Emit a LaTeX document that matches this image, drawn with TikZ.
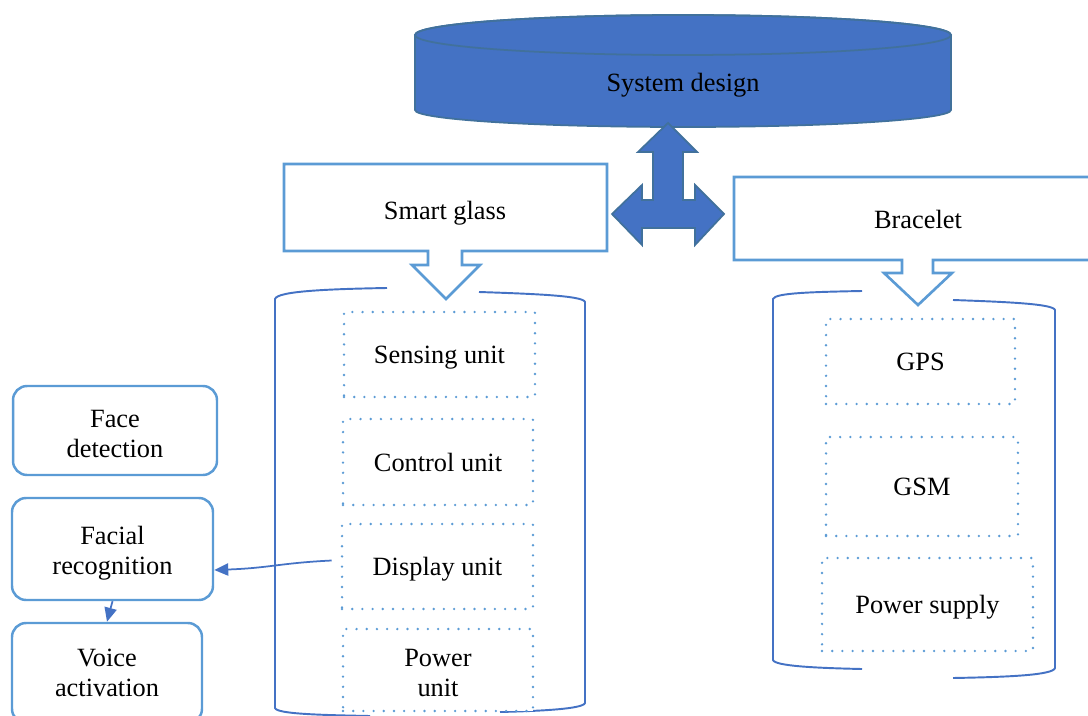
\documentclass[tikz,border=0pt]{standalone}
\usepackage{fontspec}
\setmainfont{Liberation Serif}
\usetikzlibrary{arrows.meta}

\definecolor{sysblue}{HTML}{4472C4}
\definecolor{sysedge}{HTML}{41719C}
\definecolor{boxblue}{HTML}{5B9BD5}

\tikzset{
  unitbox/.style={draw=boxblue, line width=1.5pt, line cap=round, dash pattern=on 0pt off 5.8pt, fill=white, align=center, text depth=0pt},
  taskbox/.style={draw=boxblue, line width=1.4pt, rounded corners=8pt, fill=white, align=center},
  callout/.style={draw=boxblue, line width=1.5pt, fill=white},
  scrollline/.style={draw=sysblue, line width=1.1pt},
  conn/.style={draw=sysblue, line width=1pt, -{Triangle[length=8pt, width=7pt]}},
}

\begin{document}
\begin{tikzpicture}[x=0.02cm, y=-0.02cm, font=\fontsize{15}{17}\selectfont]
    \useasboundingbox (0,0) rectangle (1088,716);
    \clip (0,0) rectangle (1088,716);

    % System design (cylinder)
    \filldraw[fill=sysblue, draw=sysedge, line width=1pt] (415,35) -- (415,110)
        arc[start angle=180, end angle=0, x radius=268, y radius=17] -- (951,35)
        arc[start angle=0, end angle=-180, x radius=268, y radius=20] -- cycle;
    \draw[sysedge, line width=1pt] (683,35) ellipse[x radius=268, y radius=20];
    \node[text depth=0pt] (sysdes) at (683,82) {System design};

    % Three-way arrow
    \filldraw[fill=sysblue, draw=sysedge, line width=1pt] (668,123) -- (697,152) -- (683,152)
        -- (683,200) -- (695,200) -- (695,185) -- (724,214) -- (695,245) -- (695,228)
        -- (642,228) -- (642,245) -- (612,214) -- (642,185) -- (642,200) -- (653,200)
        -- (653,152) -- (638,152) -- cycle;

    % Containers (scrolls)
    \draw[scrollline] (387,288) .. controls (330,289) and (277,291) .. (275,299) -- (275,708)
        .. controls (277,714) and (320,715) .. (370,716);
    \draw[scrollline] (479,292) .. controls (540,294) and (583,296) .. (585,302) -- (585,703)
        .. controls (583,709) and (540,711) .. (500,712);
    \draw[scrollline] (862,291) .. controls (810,292) and (775,293) .. (773,299) -- (773,660)
        .. controls (775,666) and (815,668) .. (862,669);
    \draw[scrollline] (953,300) .. controls (1010,302) and (1053,304) .. (1055,310) -- (1055,668)
        .. controls (1053,675) and (1010,677) .. (953,678);

    % Smart glass callout
    \filldraw[callout] (284,164) -- (607,164) -- (607,251) -- (462,251) -- (462,265) -- (480,265)
        -- (446,299) -- (412,265) -- (428,265) -- (428,251) -- (284,251) -- cycle;
    \node[text depth=0pt] (glass) at (445,210) {Smart glass};

    % Bracelet callout
    \filldraw[callout] (734,177) -- (1095,177) -- (1095,260) -- (933,260) -- (933,273) -- (952,273)
        -- (918,305) -- (884,273) -- (902,273) -- (902,260) -- (734,260) -- cycle;
    \node[text depth=0pt] (brace) at (918,219) {Bracelet};

    % Smart glass units
    \node[unitbox, minimum width=3.82cm, minimum height=1.70cm] (sense) at (439.5,354.5) {Sensing unit};
    \node[unitbox, minimum width=3.80cm, minimum height=1.72cm] (ctrl) at (438,462) {Control unit};
    \node[unitbox, minimum width=3.82cm, minimum height=1.70cm] (disp) at (437.5,566.5) {Display unit};
    \node[unitbox, minimum width=3.80cm, minimum height=1.64cm, text height=30.3pt] (power) at (438,670) {Power\\unit};

    % Bracelet units
    \node[unitbox, minimum width=3.78cm, minimum height=1.70cm] (gps) at (920.5,361.5) {GPS};
    \node[unitbox, minimum width=3.84cm, minimum height=1.98cm] (gsm) at (922,486.5) {GSM};
    \node[unitbox, minimum width=4.22cm, minimum height=1.86cm] (supply) at (927.5,604.5) {Power supply};

    % Display functions
    \node[taskbox, minimum width=4.08cm, minimum height=1.78cm, text height=31pt] (face) at (115,430.5) {Face\\detection};
    \node[taskbox, minimum width=4.02cm, minimum height=2.04cm, text height=32.5pt] (facrec) at (112.5,549) {Facial\\recognition};
    \node[taskbox, minimum width=3.80cm, minimum height=2.00cm] (voice) at (107,673) {Voice\\activation};

    % Connectors
    \draw[conn] ([xshift=-0.18cm, yshift=0.12cm]disp.west) .. controls (280,563) and (270,568)
        .. ([yshift=-0.42cm]facrec.east);
    \draw[conn] (facrec.south) -- (voice.north);
\end{tikzpicture}
\end{document}
